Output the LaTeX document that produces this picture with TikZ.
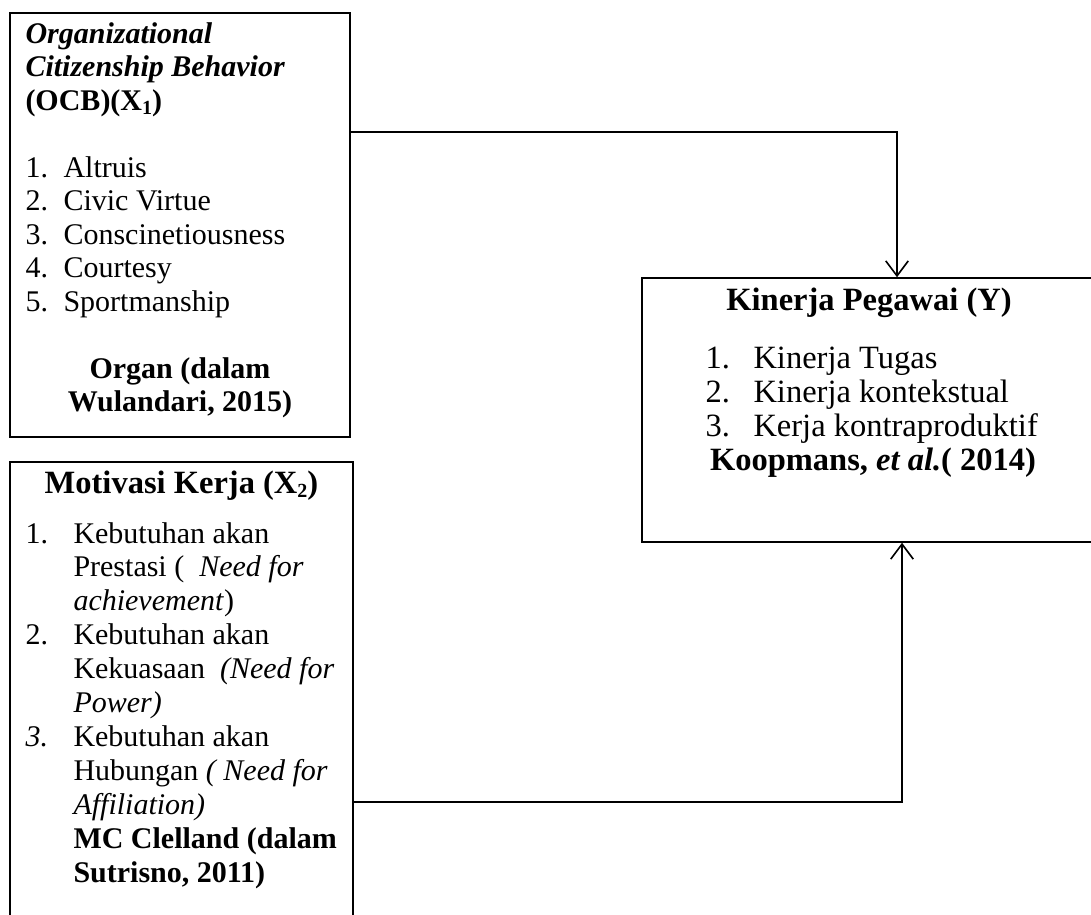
\documentclass[tikz,border=0pt]{standalone}
\usepackage{fontspec}
\setmainfont{Liberation Serif}
\usetikzlibrary{arrows.meta}
\newcommand{\lowsub}[1]{\raisebox{-0.3ex}{\fontsize{8}{8}\selectfont #1}}
\begin{document}
\begin{tikzpicture}[x=0.4pt,y=-0.4pt,
  box/.style={draw,line width=0.6pt,rectangle,inner sep=0pt},
  txt/.style={anchor=base west,inner sep=0pt,font=\fontsize{12}{14}\selectfont},
  ctxt/.style={anchor=base,inner sep=0pt,font=\fontsize{12}{14}\selectfont\bfseries},
  ttl/.style={anchor=base,inner sep=0pt,font=\fontsize{13}{15}\selectfont\bfseries},
  ytxt/.style={anchor=base west,inner sep=0pt,font=\fontsize{13}{15}\selectfont},
  link/.style={line width=0.65pt,-{Straight Barb[length=6pt,width=9pt]}}]
\useasboundingbox (0,0) rectangle (1091,914);
% boxes
\node[box,minimum width=136pt,minimum height=169.6pt] (b1) at (180,225) {};
\node[box,minimum width=137.2pt,minimum height=207.2pt] (b2) at (181.5,721) {};
\node[box,minimum width=183.2pt,minimum height=105.6pt] (bY) at (871,410) {};
% box 1 text
\node[txt,font=\fontsize{12}{14}\selectfont\bfseries\itshape] (a0) at (25,43) {Organizational};
\node[txt,font=\fontsize{12}{14}\selectfont\bfseries\itshape] (a1) at (25,76.5) {Citizenship Behavior};
\node[txt,font=\fontsize{12}{14}\selectfont\bfseries] (a2) at (25,110) {(OCB)(X\lowsub{1})};
\node[txt] (a3n) at (25,177) {1.};   \node[txt] (a3) at (63,177) {Altruis};
\node[txt] (a4n) at (25,210.5) {2.}; \node[txt] (a4) at (63,210.5) {Civic Virtue};
\node[txt] (a5n) at (25,244) {3.};   \node[txt] (a5) at (63,244) {Conscinetiousness};
\node[txt] (a6n) at (25,277.5) {4.}; \node[txt] (a6) at (63,277.5) {Courtesy};
\node[txt] (a7n) at (25,311) {5.};   \node[txt] (a7) at (63,311) {Sportmanship};
\node[ctxt] (a8) at (180,378) {Organ (dalam};
\node[ctxt] (a9) at (180,411.5) {Wulandari, 2015)};
% box 2 text
\node[ttl] (m0) at (181.5,493) {Motivasi Kerja (X\lowsub{2})};
\node[txt] (m1n) at (25,543) {1.};   \node[txt] (m1) at (73,543) {Kebutuhan akan};
\node[txt] (m2) at (73,576.9) {Prestasi ( \ \textit{Need for}};
\node[txt] (m3) at (73,610.8) {\textit{achievement})};
\node[txt] (m4n) at (25,644.7) {2.}; \node[txt] (m4) at (73,644.7) {Kebutuhan akan};
\node[txt] (m5) at (73,678.6) {Kekuasaan \ \textit{(Need for}};
\node[txt] (m6) at (73,712.5) {\textit{Power)}};
\node[txt] (m7n) at (25,746.4) {\textit{3.}}; \node[txt] (m7) at (73,746.4) {Kebutuhan akan};
\node[txt] (m8) at (73,780.3) {Hubungan \textit{( Need for}};
\node[txt] (m9) at (73,814.2) {\textit{Affiliation)}};
\node[txt,font=\fontsize{12}{14}\selectfont\bfseries] (m10) at (73,848.1) {MC Clelland (dalam};
\node[txt,font=\fontsize{12}{14}\selectfont\bfseries] (m11) at (73,882) {Sutrisno, 2011)};
% box Y text
\node[ttl] (y0) at (869,310) {Kinerja Pegawai (Y)};
\node[ytxt] (y1n) at (705,368) {1.}; \node[ytxt] (y1) at (753,368) {Kinerja Tugas};
\node[ytxt] (y2n) at (705,402) {2.}; \node[ytxt] (y2) at (753,402) {Kinerja kontekstual};
\node[ytxt] (y3n) at (705,436) {3.}; \node[ytxt] (y3) at (753,436) {Kerja kontraproduktif};
\node[ttl] (y4) at (873,470) {Koopmans, \textit{et al.}( 2014)};
% connectors
\coordinate (k1) at (897,132);
\coordinate (k2) at (902,802);
\draw[link] (b1.east |- k1) -- (k1) -- (k1 |- bY.north);
\draw[link] (b2.east |- k2) -- (k2) -- (k2 |- bY.south);
\end{tikzpicture}
\end{document}
